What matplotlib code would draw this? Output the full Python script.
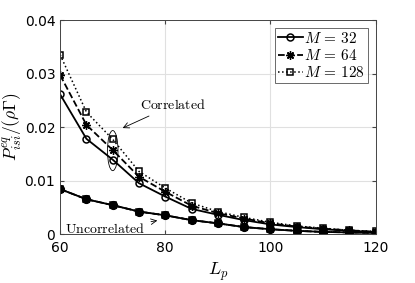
import matplotlib.pyplot as plt
from matplotlib.patches import Ellipse

plt.rcParams['mathtext.fontset'] = 'cm'

Lp = [60, 65, 70, 75, 80, 85, 90, 95, 100, 105, 110, 115, 120]
corr_32 = [0.0261, 0.0178, 0.0139, 0.0095, 0.0070, 0.0047, 0.0036, 0.0026, 0.0018, 0.0013, 0.0009, 0.0006, 0.0004]
corr_64 = [0.0297, 0.0204, 0.0157, 0.0107, 0.0079, 0.0053, 0.0039, 0.0029, 0.0020, 0.0014, 0.0010, 0.0007, 0.0004]
corr_128 = [0.0335, 0.0228, 0.0177, 0.0117, 0.0086, 0.0058, 0.0042, 0.0031, 0.0022, 0.0015, 0.0011, 0.0007, 0.0005]
uncorr = [0.0084, 0.0065, 0.0054, 0.0042, 0.0035, 0.0026, 0.0020, 0.0013, 0.0009, 0.0006, 0.0004, 0.0003, 0.0002]

star = (8, 2, 0)  # asterisk like matlab '*'

fig = plt.figure(figsize=(4.15, 2.83), dpi=100)
ax = fig.add_axes([0.145, 0.173, 0.76, 0.756])

l1, = ax.plot(Lp, corr_32, '-', color='k', lw=1.3, marker='o', ms=5, mfc='none', mew=1.1)
l2, = ax.plot(Lp, corr_64, '--', color='k', lw=1.3, marker=star, ms=6, mew=1.0)
l3, = ax.plot(Lp, corr_128, ':', color='k', lw=1.1, marker='s', ms=4.5, mfc='none', mew=1.1)
ax.plot(Lp, uncorr, '-', color='k', lw=1.3, marker='o', ms=5.5, mfc='k', mew=1.1)
ax.plot(Lp, uncorr, '--', color='k', lw=1.3, marker=star, ms=6, mew=1.0)
ax.plot(Lp, uncorr, ':', color='k', lw=1.1, marker='s', ms=5, mfc='k', mew=1.1)

ax.add_patch(Ellipse((70, 0.0156), 2.0, 0.0075, fill=False, lw=0.6, color='k'))
ax.annotate(r'$\mathrm{Correlated}$', xy=(71.4, 0.0196), xytext=(75.2, 0.0228),
            fontsize=10, ha='left', va='bottom',
            arrowprops=dict(arrowstyle='->', lw=0.6, color='k'))
ax.annotate(r'$\mathrm{Uncorrelated}$', xy=(79, 0.0026), xytext=(61, 0.0009),
            fontsize=10, ha='left', va='center',
            arrowprops=dict(arrowstyle='->', lw=0.6, color='k'))

ax.set_xlim(60, 120)
ax.set_ylim(0, 0.04)
ax.set_xticks([60, 80, 100, 120])
ax.set_yticks([0, 0.01, 0.02, 0.03, 0.04])
ax.set_yticklabels(['0', '0.01', '0.02', '0.03', '0.04'])
ax.tick_params(direction='in', top=True, right=True, labelsize=10, length=3, color='#444444')
ax.tick_params(axis='x', pad=5)
ax.grid(True, color='#e0e0e0', lw=0.8)
ax.set_axisbelow(True)
for s in ax.spines.values():
    s.set_color('#444444')
    s.set_linewidth(0.7)

ax.set_xlabel(r'$L_p$', fontsize=13)
ax.set_ylabel(r'$P_{isi}^{eq}/(\rho\Gamma)$', fontsize=12.5)
ax.yaxis.set_label_coords(-0.112, 0.5)

leg = ax.legend([l1, l2, l3], [r'$M\,=\,32$', r'$M\,=\,64$', r'$M\,=\,128$'],
                loc='upper right', fontsize=11, fancybox=False, handlelength=1.6,
                handletextpad=0.1, borderpad=0.2, labelspacing=0.15,
                borderaxespad=0.5)
leg.get_frame().set_edgecolor('#444444')
leg.get_frame().set_linewidth(0.7)

fig.savefig('out.png', dpi=100)
